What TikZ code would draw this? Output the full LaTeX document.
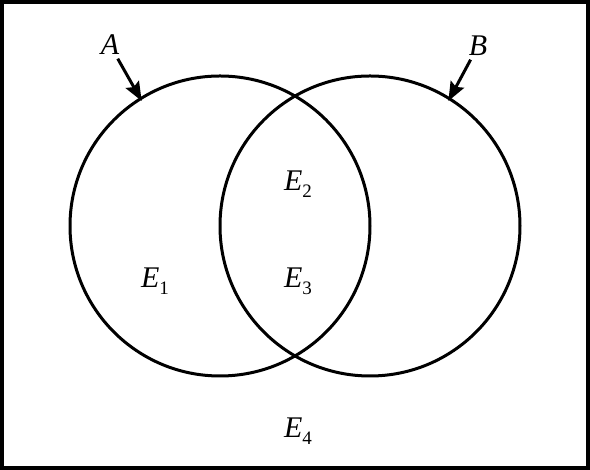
\documentclass[tikz,border=0pt]{standalone}
\usepackage{fontspec}
\setmainfont{Liberation Serif}
\usetikzlibrary{arrows.meta, positioning}
\newcommand{\evt}[1]
{
	\textit{E}\raisebox{-7pt}{\fontsize{19}{19}\selectfont #1}
}
\newcommand{\pointTo}[2]
{
	\draw[pointer] (#1) -- (#2)
}

\begin{document}
\begin{tikzpicture}[x=1pt, y=1pt,
			set/.style={shape=circle,
				draw=black,
				line width=3pt,
				minimum size=300pt,
				inner sep=0},
			lbl/.style={font=\fontsize{30}{34}\selectfont\itshape, inner sep=1pt},
			ev/.style={font=\fontsize{30}{34}\selectfont, inner sep=1pt},
			pointer/.style={line width=3pt, shorten <=3pt, shorten >=-4pt,
				-{Stealth[length=19pt, width=15pt, inset=3pt]}}]

			\useasboundingbox (0, 0) rectangle (590, 470);
			\draw[line width=4.5pt] (2, 2) rectangle (588, 468);

			\node[set] at (220, 244) (SA){};
			\node[set] at (370, 244) (SB){};

			\node[lbl] at (110, 425) (A){A};
			\node[lbl] at (478, 424) (B){B};

			\node[ev] at (298, 286) (E2){\evt{2}};
			\node[ev] at (155, 189) (E1){\evt{1}};
			\node[ev] at (298, 189) (E3){\evt{3}};
			\node[ev] at (298, 39) (E4){\evt{4}};

			\pointTo{A}{SA.122};
			\pointTo{B}{SB.58};
		\end{tikzpicture}
\end{document}
